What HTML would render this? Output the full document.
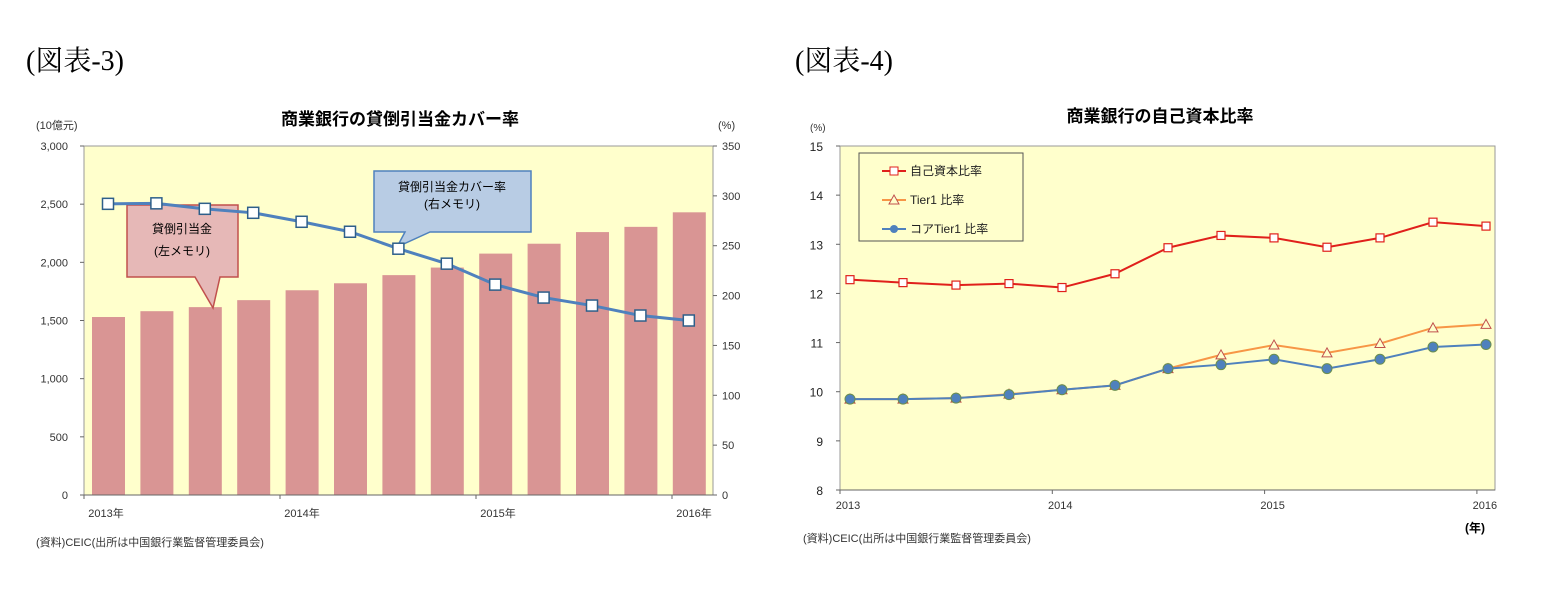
<!DOCTYPE html>
<html><head><meta charset="utf-8">
<style>
body{margin:0;background:#fff;width:1553px;height:593px;overflow:hidden;font-family:"Liberation Sans","Noto Sans CJK JP",sans-serif;}
svg text{font-family:"Liberation Sans","Noto Sans CJK JP",sans-serif;}
</style></head>
<body>
<svg width="1553" height="593" xmlns="http://www.w3.org/2000/svg">
<text x="26" y="70" font-size="28" style="font-family:'Liberation Serif','Noto Serif CJK SC',serif">(図表-3)</text>
<text x="795" y="70" font-size="28" style="font-family:'Liberation Serif','Noto Serif CJK SC',serif">(図表-4)</text>
<g id="c1"></g>
<g id="c2"></g>
</svg>
<script>
const NS="http://www.w3.org/2000/svg";
const c1Bars=[1530,1580,1615,1675,1760,1820,1890,1955,2075,2160,2260,2305,2430];
const c1Line=[292,292.5,287,283,274,264,247,232,211,198,190,180,175];
const c1LeftTicks=["0","500","1,000","1,500","2,000","2,500","3,000"];
const c1RightTicks=["0","50","100","150","200","250","300","350"];
const c1XLabels=["2013年","2014年","2015年","2016年"];
const c2Total=[12.28,12.22,12.17,12.2,12.12,12.4,12.93,13.18,13.13,12.94,13.13,13.45,13.37];
const c2Tier1=[9.85,9.85,9.87,9.95,10.04,10.13,10.47,10.75,10.95,10.79,10.98,11.3,11.37];
const c2Core=[9.85,9.85,9.87,9.94,10.04,10.13,10.47,10.55,10.66,10.47,10.66,10.91,10.96];
const c2YTicks=["8","9","10","11","12","13","14","15"];
const c2XLabels=["2013","2014","2015","2016"];

function mk(p,t,a,txt){const e=document.createElementNS(NS,t);for(const k in a)e.setAttribute(k,a[k]);if(txt!==undefined)e.textContent=txt;p.appendChild(e);return e;}

// Chart 1
const g1=document.getElementById('c1');
const L1=84,R1=713,T1=146,B1=495;
const x1=i=>108+i*48.4;
const yl=v=>B1-(v/3000)*(B1-T1);
const yr=v=>B1-(v/350)*(B1-T1);
let e;
e=mk(g1,'rect',{x:L1,y:T1,width:R1-L1,height:B1-T1,fill:'#ffffcc',stroke:'#999'});

e=mk(g1,'text',{x:400,y:125,'font-size':17,'font-weight':'bold','text-anchor':'middle'},'商業銀行の貸倒引当金カバー率');

e=mk(g1,'text',{x:36,y:129,'font-size':11,fill:'#333'},'(10億元)');

e=mk(g1,'text',{x:718,y:129,'font-size':11,fill:'#333'},'(%)');

c1LeftTicks.forEach((t,i)=>{const y=yl(i*500);
 e=mk(g1,'text',{x:68,y:y+4,'font-size':11,'text-anchor':'end',fill:'#333'},t);
 
 mk(g1,'line',{x1:L1-4,x2:L1,y1:y,y2:y,stroke:'#666'});});
c1RightTicks.forEach((t,i)=>{const y=yr(i*50);
 e=mk(g1,'text',{x:722,y:y+4,'font-size':11,fill:'#333'},t);
 
 mk(g1,'line',{x1:R1,x2:R1+4,y1:y,y2:y,stroke:'#666'});});
c1Bars.forEach((v,i)=>{
 e=mk(g1,'rect',{x:x1(i)-16,y:yl(v),width:33,height:B1-yl(v),fill:'#d99594'});
 });
mk(g1,'line',{x1:L1,x2:R1,y1:B1,y2:B1,stroke:'#666'});
c1XLabels.forEach((t,i)=>{const tx=L1+i*196;
 mk(g1,'line',{x1:tx,x2:tx,y1:B1,y2:B1+4,stroke:'#666'});
 e=mk(g1,'text',{x:tx+22,y:517,'font-size':11,'text-anchor':'middle',fill:'#333'},t);
 });
// callouts
e=mk(g1,'path',{d:'M374,171 H531 V232 H430 L397,247 L405,232 H374 Z',fill:'#b8cce4',stroke:'#4f81bd','stroke-width':1.5});

mk(g1,'text',{x:452,y:191,'font-size':12,'text-anchor':'middle'},'貸倒引当金カバー率');
mk(g1,'text',{x:452,y:208,'font-size':12,'text-anchor':'middle'},'(右メモリ)');
e=mk(g1,'path',{d:'M127,205 H238 V277 H220 L213,308 L195,277 H127 Z',fill:'#e6b8b7',stroke:'#c0504d','stroke-width':1.5});

mk(g1,'text',{x:182,y:233,'font-size':12,'text-anchor':'middle'},'貸倒引当金');
mk(g1,'text',{x:182,y:255,'font-size':12,'text-anchor':'middle'},'(左メモリ)');
e=mk(g1,'polyline',{points:c1Line.map((v,i)=>x1(i)+','+yr(v)).join(' '),fill:'none',stroke:'#4f81bd',"stroke-width":3});

c1Line.forEach((v,i)=>{e=mk(g1,'rect',{x:x1(i)-5.5,y:yr(v)-5.5,width:11,height:11,fill:'#fff',stroke:'#2e5f8a','stroke-width':1.5});
 });
e=mk(g1,'text',{x:36,y:546,'font-size':11,fill:'#333'},'(資料)CEIC(出所は中国銀行業監督管理委員会)');


// Chart 2
const g2=document.getElementById('c2');
const L2=840,R2=1495,T2=146,B2=490;
const x2=i=>850+i*53;
const y2=v=>B2-(v-8)/7*(B2-T2);
e=mk(g2,'rect',{x:L2,y:T2,width:R2-L2,height:B2-T2,fill:'#ffffcc',stroke:'#999'});

e=mk(g2,'text',{x:1160,y:122,'font-size':17,'font-weight':'bold','text-anchor':'middle'},'商業銀行の自己資本比率');

e=mk(g2,'text',{x:810,y:131,'font-size':10,fill:'#333'},'(%)');

c2YTicks.forEach((t,i)=>{const y=y2(8+i);
 e=mk(g2,'text',{x:823,y:y+5,'font-size':12,'text-anchor':'end',fill:'#222'},t);
 
 mk(g2,'line',{x1:L2-4,x2:L2,y1:y,y2:y,stroke:'#666'});});
mk(g2,'line',{x1:L2,x2:R2,y1:B2,y2:B2,stroke:'#666'});
c2XLabels.forEach((t,i)=>{const tx=L2+i*212.3;
 mk(g2,'line',{x1:tx,x2:tx,y1:B2,y2:B2+4,stroke:'#666'});
 e=mk(g2,'text',{x:tx+8,y:509,'font-size':11,'text-anchor':'middle',fill:'#333'},t);
 });
e=mk(g2,'text',{x:1465,y:532,'font-size':12,'font-weight':'bold'},'(年)');

function series(vals,color,name,marker){
 e=mk(g2,'polyline',{points:vals.map((v,i)=>x2(i)+','+y2(v)).join(' '),fill:'none',stroke:color,'stroke-width':2});
 
 vals.forEach((v,i)=>{const x=x2(i),y=y2(v);
  if(marker==='sq')e=mk(g2,'rect',{x:x-4,y:y-4,width:8,height:8,fill:'#fff',stroke:color,'stroke-width':1.2});
  else if(marker==='tri')e=mk(g2,'path',{d:`M${x},${y-5} L${x+5},${y+4} L${x-5},${y+4} Z`,fill:'#ffffcc',stroke:'#c0504d','stroke-width':1});
  else e=mk(g2,'circle',{cx:x,cy:y,r:5,fill:'#4f81bd',stroke:'#6b8e4e','stroke-width':1});
  });}
series(c2Tier1,'#f79646','tier1-ratio','tri');
series(c2Core,'#4f81bd','core-tier1-ratio','dot');
series(c2Total,'#e0201b','capital-ratio','sq');
e=mk(g2,'rect',{x:859,y:153,width:164,height:88,fill:'#ffffcc',stroke:'#555'});

[['#e0201b','自己資本比率','sq'],['#f79646','Tier1 比率','tri'],['#4f81bd','コアTier1 比率','dot']].forEach((d,i)=>{
 const y=171+i*29;
 mk(g2,'line',{x1:882,x2:906,y1:y,y2:y,stroke:d[0],'stroke-width':2});
 if(d[2]==='sq')mk(g2,'rect',{x:890,y:y-4,width:8,height:8,fill:'#fff',stroke:d[0]});
 else if(d[2]==='tri')mk(g2,'path',{d:`M894,${y-5} L899,${y+4} L889,${y+4} Z`,fill:'#ffffcc',stroke:'#c0504d'});
 else mk(g2,'circle',{cx:894,cy:y,r:4,fill:'#4f81bd'});
 e=mk(g2,'text',{x:910,y:y+4,'font-size':12,fill:'#222'},d[1]);
 });
e=mk(g2,'text',{x:803,y:542,'font-size':11,fill:'#333'},'(資料)CEIC(出所は中国銀行業監督管理委員会)');

</script>
</body></html>
